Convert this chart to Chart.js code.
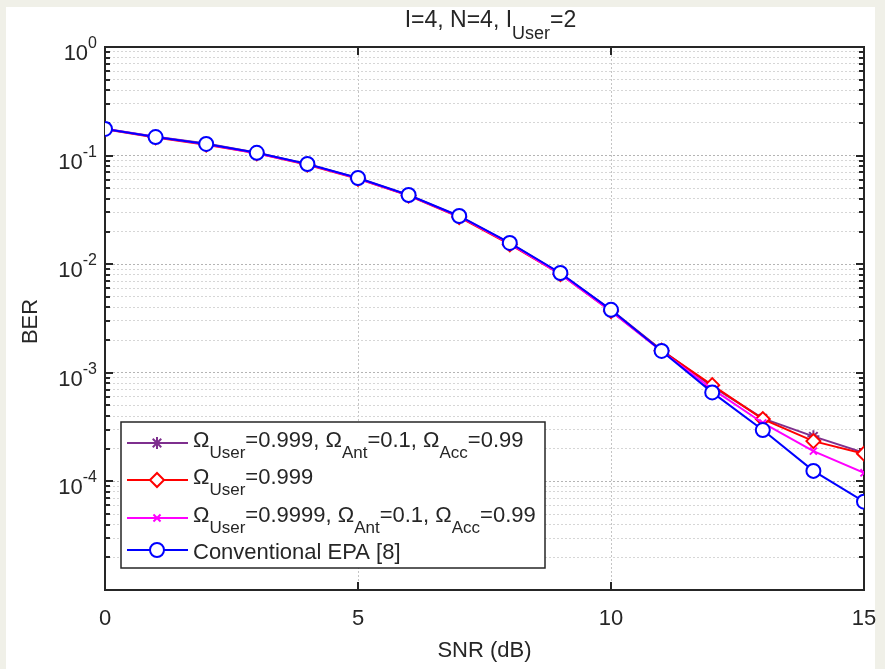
<!DOCTYPE html>
<html>
<head>
<meta charset="utf-8">
<script src="https://cdn.jsdelivr.net/npm/chart.js@4.4.0/dist/chart.umd.min.js"></script>
<style>
  html, body { margin: 0; padding: 0; background: #f0f0e8; }
  canvas { display: block; }
</style>
</head>
<body>
<canvas id="berChart" width="885" height="669"></canvas>
<script>
// valores
const snr = [0, 1, 2, 3, 4, 5, 6, 7, 8, 9, 10, 11, 12, 13, 14, 15];
const berStar = [0.177, 0.149, 0.129, 0.106, 0.0835, 0.062, 0.0432, 0.0276, 0.0156, 0.0082, 0.0038, 0.00162, 0.00075, 0.00038, 0.00026, 0.000183];
const berDiamond = [0.175, 0.147, 0.126, 0.105, 0.0825, 0.0612, 0.0428, 0.0272, 0.0152, 0.0081, 0.0037, 0.0016, 0.00077, 0.000375, 0.000235, 0.00018];
const berCross = [0.176, 0.148, 0.127, 0.105, 0.083, 0.0615, 0.043, 0.0275, 0.0155, 0.0081, 0.0037, 0.00158, 0.00071, 0.000345, 0.00019, 0.00012];
const berEpa = [0.176, 0.148, 0.128, 0.106, 0.0837, 0.0622, 0.0434, 0.0278, 0.0157, 0.0083, 0.0038, 0.00159, 0.00066, 0.000297, 0.000125, 0.000065];

const seriesLabels = [
  'Ω_{User}=0.999, Ω_{Ant}=0.1, Ω_{Acc}=0.99',
  'Ω_{User}=0.999',
  'Ω_{User}=0.9999, Ω_{Ant}=0.1, Ω_{Acc}=0.99',
  'Conventional EPA [8]'
];
const chartTitle = 'I=4, N=4, I_{User}=2';
const xTicks = [0, 5, 10, 15];
const yLabels = [1, 0.1, 0.01, 0.001, 0.0001];
const yLabelText = ['10^{0}', '10^{-1}', '10^{-2}', '10^{-3}', '10^{-4}'];

const FONT = "'Liberation Sans', Arial, sans-serif";
const AXIS_COLOR = '#262626';

// rejilla logarítmica: 1..9 por década
const yGrid = [];
for (let e = -5; e < 0; e++) {
  for (let m = 1; m < 10; m++) yGrid.push(m * Math.pow(10, e));
}
yGrid.push(1);

function isDecade(v) {
  const l = Math.log10(v);
  return Math.abs(l - Math.round(l)) < 1e-9;
}

// texto con _{sub} y ^{sup}
function parseRich(str) {
  const segs = [];
  const re = /([_^])\{([^}]*)\}|([^_^]+)/g;
  let m;
  while ((m = re.exec(str)) !== null) {
    if (m[3]) segs.push({ t: m[3], k: 'n' });
    else segs.push({ t: m[2], k: m[1] === '_' ? 'sub' : 'sup' });
  }
  return segs;
}

function drawRich(ctx, str, x, y, size, smallSize, shift, align) {
  const segs = parseRich(str);
  const fontOf = k => (k === 'n' ? size : smallSize) + 'px ' + FONT;
  let w = 0;
  segs.forEach(s => { ctx.font = fontOf(s.k); w += ctx.measureText(s.t).width; });
  let cx = x;
  if (align === 'center') cx = x - w / 2;
  if (align === 'right') cx = x - w;
  ctx.textBaseline = 'alphabetic';
  ctx.textAlign = 'left';
  segs.forEach(s => {
    ctx.font = fontOf(s.k);
    let dy = 0;
    if (s.k === 'sub') dy = shift;
    if (s.k === 'sup') dy = -shift;
    ctx.fillText(s.t, cx, y + dy);
    cx += ctx.measureText(s.t).width;
  });
}

const decorPlugin = {
  id: 'decor',
  beforeDraw(chart) {
    const ctx = chart.ctx;
    ctx.save();
    ctx.fillStyle = '#f0f0e8';
    ctx.fillRect(0, 0, chart.width, chart.height);
    ctx.fillStyle = '#ffffff';
    ctx.fillRect(6, 7, 869, chart.height - 7);
    ctx.restore();
  },
  beforeDatasetsDraw(chart) {
    const ctx = chart.ctx;
    const a = chart.chartArea;
    const xs = chart.scales.x, ys = chart.scales.y;
    ctx.save();
    ctx.strokeStyle = AXIS_COLOR;
    ctx.lineWidth = 2;
    // marcas hacia dentro
    ctx.beginPath();
    yGrid.forEach(v => {
      const py = Math.round(ys.getPixelForValue(v));
      const len = isDecade(v) ? 8 : 5;
      ctx.moveTo(a.left, py); ctx.lineTo(a.left + len, py);
      ctx.moveTo(a.right, py); ctx.lineTo(a.right - len, py);
    });
    xTicks.forEach(v => {
      const px = Math.round(xs.getPixelForValue(v));
      ctx.moveTo(px, a.bottom); ctx.lineTo(px, a.bottom - 8);
      ctx.moveTo(px, a.top); ctx.lineTo(px, a.top + 8);
    });
    ctx.stroke();
    ctx.strokeRect(a.left, a.top, a.right - a.left, a.bottom - a.top);
    ctx.restore();
  },
  afterDraw(chart) {
    const ctx = chart.ctx;
    const a = chart.chartArea;
    const ys = chart.scales.y;
    ctx.save();
    ctx.fillStyle = AXIS_COLOR;

    // etiquetas del eje y
    yLabels.forEach((v, i) => {
      const py = ys.getPixelForValue(v);
      drawRich(ctx, yLabelText[i], 97, py + 13, 22, 16, 12, 'right');
    });

    // título del eje y
    ctx.save();
    ctx.translate(37, (a.top + a.bottom) / 2 + 3);
    ctx.rotate(-Math.PI / 2);
    drawRich(ctx, 'BER', 0, 0, 22, 16, 0, 'center');
    ctx.restore();

    // título
    drawRich(ctx, chartTitle, (a.left + a.right) / 2 + 6, 27, 23, 18, 12, 'center');

    // leyenda
    const box = { x: 121, y: 422, w: 424, h: 146 };
    ctx.fillStyle = '#ffffff';
    ctx.fillRect(box.x, box.y, box.w, box.h);
    ctx.strokeStyle = AXIS_COLOR;
    ctx.lineWidth = 1.5;
    ctx.strokeRect(box.x, box.y, box.w, box.h);
    const rows = [443, 480, 518, 550];
    chart.data.datasets.forEach((ds, i) => {
      const ly = rows[i];
      ctx.strokeStyle = ds.borderColor;
      ctx.lineWidth = ds.borderWidth;
      ctx.beginPath();
      ctx.moveTo(127, ly); ctx.lineTo(188, ly);
      ctx.stroke();
      ctx.fillStyle = ds.pointBackgroundColor;
      ctx.strokeStyle = ds.pointBorderColor;
      ctx.lineWidth = ds.pointBorderWidth;
      Chart.helpers.drawPoint(ctx, { pointStyle: ds.pointStyle, radius: ds.pointRadius, rotation: 0, borderWidth: ds.pointBorderWidth }, 157, ly);
      ctx.fillStyle = AXIS_COLOR;
      const hasSub = ds.label.indexOf('_{') >= 0;
      drawRich(ctx, ds.label, 193, ly + (hasSub ? 4 : 9), 22, 17, 11, 'left');
    });
    ctx.restore();
  }
};

function makeSet(label, data, color, style, radius, order) {
  return {
    label: label,
    data: data,
    borderColor: color,
    borderWidth: 2,
    pointStyle: style,
    pointRadius: radius,
    pointBorderColor: color,
    pointBackgroundColor: '#ffffff',
    pointBorderWidth: 2,
    tension: 0,
    order: order
  };
}

const ctx = document.getElementById('berChart').getContext('2d');
new Chart(ctx, {
  type: 'line',
  data: {
    labels: snr,
    datasets: [
      makeSet(seriesLabels[0], berStar, '#7E2F8E', 'star', 6, 3),
      makeSet(seriesLabels[1], berDiamond, '#FF0000', 'rectRot', 7, 2),
      makeSet(seriesLabels[2], berCross, '#FF00FF', 'crossRot', 5, 1),
      makeSet(seriesLabels[3], berEpa, '#0000FF', 'circle', 7, 0)
    ]
  },
  options: {
    responsive: false,
    animation: false,
    layout: { padding: { top: 47, right: 21, left: 0, bottom: 0 } },
    plugins: {
      legend: { display: false },
      title: { display: false },
      tooltip: { enabled: false }
    },
    scales: {
      x: {
        type: 'linear',
        min: 0,
        max: 15,
        afterBuildTicks: s => { s.ticks = xTicks.map(v => ({ value: v })); },
        afterFit: s => { s.height = 79; s.paddingLeft = 0; s.paddingRight = 0; },
        grid: {
          drawTicks: false,
          lineWidth: 1,
          color: c => (c.tick && (c.tick.value === 5 || c.tick.value === 10)) ? '#c4c4c4' : 'rgba(0,0,0,0)'
        },
        border: { display: false, dash: [2, 2] },
        ticks: {
          padding: 16,
          maxRotation: 0,
          color: AXIS_COLOR,
          font: { family: FONT, size: 22 }
        },
        title: {
          display: true,
          text: 'SNR (dB)',
          color: AXIS_COLOR,
          font: { family: FONT, size: 22 },
          padding: { top: 0, bottom: 5 }
        }
      },
      y: {
        type: 'logarithmic',
        min: 1e-5,
        max: 1,
        afterBuildTicks: s => { s.ticks = yGrid.map(v => ({ value: v })); },
        afterFit: s => { s.width = 105; s.paddingTop = 0; s.paddingBottom = 0; },
        grid: {
          drawTicks: false,
          lineWidth: 1,
          color: c => (c.tick && isDecade(c.tick.value)) ? '#b4b4b4' : '#d6d6d6'
        },
        border: { display: false, dash: [2, 2] },
        ticks: { display: false }
      }
    }
  },
  plugins: [decorPlugin]
});
</script>
</body>
</html>
